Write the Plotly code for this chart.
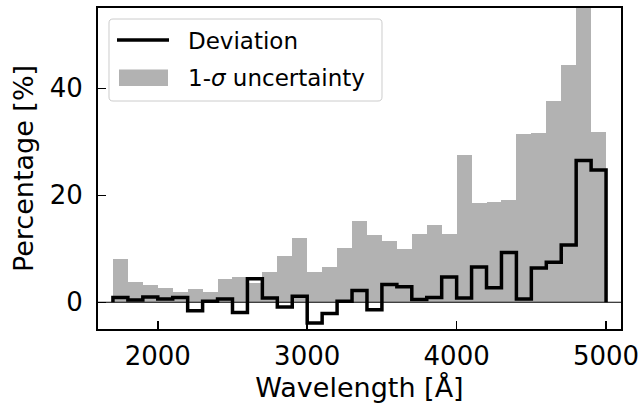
import plotly.graph_objects as go

# ---- data ----
bin_edges_start = 1700
bin_width = 100
uncertainty = [8.1, 3.7, 3.2, 2.7, 2.0, 2.4, 2.0, 4.4, 4.8, 3.6,
               5.7, 8.7, 12.0, 5.7, 6.6, 10.2, 15.1, 12.6, 11.5, 9.9,
               12.8, 14.5, 12.7, 27.5, 18.6, 18.8, 19.1, 31.4, 31.6, 37.6,
               44.3, 58.0, 31.8]
deviation = [0.9, 0.4, 1.0, 0.6, 0.9, -1.6, 0.2, 0.6, -1.9, 4.4,
             0.8, -0.9, 1.1, -3.9, -2.1, 0.2, 2.2, -1.4, 3.3, 2.9,
             0.5, 0.9, 4.7, 0.8, 6.6, 2.7, 9.3, 0.6, 6.4, 7.5,
             10.7, 26.5, 24.7]
x_ticks = [2000, 3000, 4000, 5000]
y_ticks = [0, 20, 40]

n = len(uncertainty)
edges = [bin_edges_start + i * bin_width for i in range(n + 1)]
centers = [e + bin_width / 2 for e in edges[:-1]]

# step path for deviation (histtype='step' style)
step_x = [edges[0]] + edges + [edges[-1]]
step_y = [0] + deviation + [deviation[-1], 0]

FONT = "DejaVu Sans"
W, H = 642, 410
ML, MR, MT, MB = 98, 21, 8, 81
PW, PH = W - ML - MR, H - MT - MB

def px(x):
    return (x - ML) / PW

def py(y):
    return (MT + PH - y) / PH

fig = go.Figure()
fig.add_trace(go.Bar(x=centers, y=uncertainty, width=bin_width,
                     marker=dict(color="#b2b2b2", line=dict(width=0)),
                     showlegend=False, hoverinfo="skip"))
fig.add_trace(go.Scatter(x=step_x, y=step_y, mode="lines",
                         line=dict(color="black", width=3.5, shape="hv"),
                         showlegend=False, hoverinfo="skip"))

shapes = []
# zero line
shapes.append(dict(type="line", xref="paper", yref="y", x0=0, x1=1, y0=0, y1=0,
                   line=dict(color="black", width=1), layer="above"))

# legend box with rounded corners
x0, x1, y0, y1, r = 109, 382, 19, 101, 4
def P(x, y):
    return f"{px(x):.5f},{py(y):.5f}"
path = (f"M {P(x0+r,y0)} L {P(x1-r,y0)} Q {P(x1,y0)} {P(x1,y0+r)} "
        f"L {P(x1,y1-r)} Q {P(x1,y1)} {P(x1-r,y1)} L {P(x0+r,y1)} "
        f"Q {P(x0,y1)} {P(x0,y1-r)} L {P(x0,y0+r)} Q {P(x0,y0)} {P(x0+r,y0)} Z")
shapes.append(dict(type="path", xref="paper", yref="paper", path=path,
                   fillcolor="rgba(255,255,255,0.8)", line=dict(color="#cccccc", width=1),
                   layer="above"))
shapes.append(dict(type="line", xref="paper", yref="paper",
                   x0=px(117), x1=px(169), y0=py(40), y1=py(40),
                   line=dict(color="black", width=3.5), layer="above"))
shapes.append(dict(type="rect", xref="paper", yref="paper",
                   x0=px(119), x1=px(168), y0=py(69.5), y1=py(86),
                   fillcolor="#b2b2b2", line=dict(width=0), layer="above"))

annotations = [
    dict(text="Deviation", xref="paper", yref="paper", x=px(186), y=py(41),
         xanchor="left", yanchor="middle", showarrow=False,
         font=dict(family=FONT, size=23, color="black")),
    dict(text="1-<i>σ</i> uncertainty", xref="paper", yref="paper", x=px(186), y=py(78),
         xanchor="left", yanchor="middle", showarrow=False,
         font=dict(family=FONT, size=23, color="black")),
]

axis_common = dict(showline=True, linecolor="black", linewidth=2, mirror=True,
                   ticks="inside", ticklen=8, tickwidth=1.5, tickcolor="black",
                   showgrid=False, zeroline=False, automargin=False,
                   tickfont=dict(family=FONT, size=26, color="black"))

fig.update_layout(
    width=W, height=H,
    margin=dict(l=ML, r=MR, t=MT, b=MB),
    paper_bgcolor="white", plot_bgcolor="white",
    bargap=0,
    hovermode=False,
    xaxis=dict(range=[1600, 5100], tickvals=x_ticks,
               title=dict(text="Wavelength [Å]", font=dict(family=FONT, size=27, color="black"),
                          standoff=8),
               ticklabelstandoff=3, **axis_common),
    yaxis=dict(range=[-5, 55], tickvals=y_ticks,
               title=dict(text="Percentage [%]", font=dict(family=FONT, size=27, color="black"),
                          standoff=8),
               ticklabelstandoff=8, **axis_common),
    shapes=shapes,
    annotations=annotations,
    showlegend=False,
)

fig.write_html("out.html",
               config={"displayModeBar": False, "staticPlot": True},
               post_script="document.body.style.margin='0';document.body.style.overflow='hidden';")
